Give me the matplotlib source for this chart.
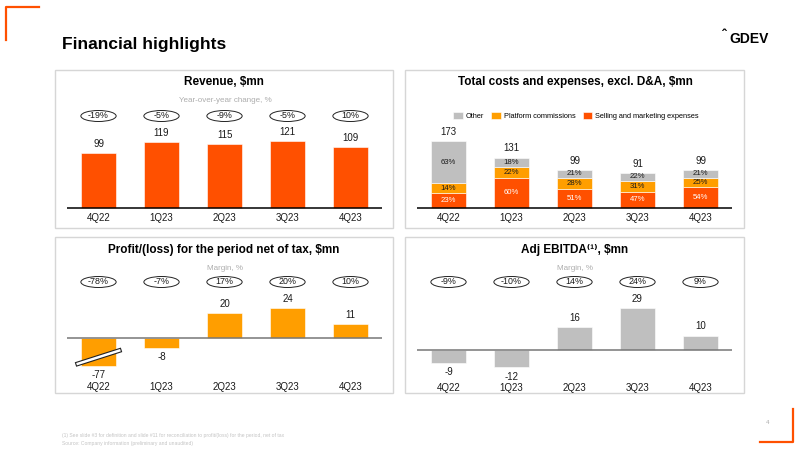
"""Financial highlights slide: revenue, costs, profit and adj EBITDA by quarter."""

import matplotlib.pyplot as plt
from matplotlib.lines import Line2D
from matplotlib.patches import Ellipse, Rectangle
from matplotlib.transforms import blended_transform_factory

plt.rcParams["font.family"] = ["Liberation Sans", "DejaVu Sans"]

quarters = ["4Q22", "1Q23", "2Q23", "3Q23", "4Q23"]

revenue = [99, 119, 115, 121, 109]
revenue_yoy = ["-19%", "-5%", "-9%", "-5%", "10%"]

costs_total = [173, 131, 99, 91, 99]
share_selling = [23, 60, 51, 47, 54]
share_platform = [14, 22, 28, 31, 25]
share_other = [63, 18, 21, 22, 21]

profit = [-77, -8, 20, 24, 11]
profit_margin = ["-78%", "-7%", "17%", "20%", "10%"]

ebitda = [-9, -12, 16, 29, 10]
ebitda_margin = ["-9%", "-10%", "14%", "24%", "9%"]

RED = "#FF5000"
ORANGE = "#FF9E00"
GREY = "#BFBFBF"
TEXT = "#1a1a1a"
LIGHT = "#ADADAD"

W, H = 800, 450
fig = plt.figure(figsize=(8, 4.5), dpi=100)


def fy(y):
    return 1 - y / H


def chart_axes(x0, x1, base, scale, top, bottom):
    ax = fig.add_axes([x0 / W, fy(bottom), (x1 - x0) / W, (bottom - top) / H])
    ax.set_xlim(-0.5, len(quarters) - 0.5)
    ax.set_ylim(-(bottom - base) / scale, (base - top) / scale)
    ax.axis("off")
    return ax


def baseline(ax, color):
    ax.axhline(0, color=color, lw=1.1, zorder=5)


def category_labels(ax, y):
    tr = blended_transform_factory(ax.transData, fig.transFigure)
    for i, q in enumerate(quarters):
        ax.text(i, fy(y), q, transform=tr, ha="center", va="center",
                fontsize=7, color=TEXT, clip_on=False)


def ovals(ax, y, labels):
    tr = blended_transform_factory(ax.transData, fig.transFigure)
    for i, s in enumerate(labels):
        e = Ellipse((i, fy(y)), 0.56, 11 / H, transform=tr, facecolor="white",
                    edgecolor="#222222", lw=0.7, zorder=3)
        e.set_clip_on(False)
        ax.add_artist(e)
        ax.text(i, fy(y), s, transform=tr, ha="center", va="center",
                fontsize=6.4, color=TEXT, clip_on=False, zorder=4)


def value_labels(ax, bars, values):
    for bar, v in zip(bars, values):
        cx = bar.get_x() + bar.get_width() / 2
        y0, y1 = bar.get_y(), bar.get_y() + bar.get_height()
        if v >= 0:
            ax.annotate(str(v), (cx, max(y0, y1)), xytext=(0, 3),
                        textcoords="offset points", ha="center", va="bottom",
                        fontsize=7, color=TEXT)
        else:
            ax.annotate(str(v), (cx, min(y0, y1)), xytext=(0, -3),
                        textcoords="offset points", ha="center", va="top",
                        fontsize=7, color=TEXT)


# background decoration (pixel coordinates)
bg = fig.add_axes([0, 0, 1, 1])
bg.set_xlim(0, W)
bg.set_ylim(H, 0)
bg.axis("off")
bg.plot([39, 6, 6], [7, 7, 40], color=RED, lw=1.6, solid_joinstyle="round")
bg.plot([760, 793, 793], [442, 442, 409], color=RED, lw=1.6, solid_joinstyle="round")
for x0, y0, x1, y1 in [(55, 70, 393, 228), (405, 70, 744, 228),
                       (55, 237, 393, 393), (405, 237, 744, 393)]:
    bg.add_patch(Rectangle((x0, y0), x1 - x0, y1 - y0, fill=False,
                           edgecolor="#D6D6D6", lw=1.0))
bg.text(62, 45, "Financial highlights", fontsize=12.5, fontweight="bold",
        color="black", va="center", ha="left")
bg.text(722, 36, "\u02c6", fontsize=10, fontweight="bold", color="black",
        va="center", ha="left")
bg.text(729, 39, "GDEV", fontsize=10, fontweight="bold", color="black",
        va="center", ha="left")
bg.text(766, 423, "4", fontsize=4.5, color=LIGHT, va="center", ha="left")
bg.text(62, 436, "(1) See slide #3 for definition and slide #11 for reconciliation "
        "to profit/(loss) for the period, net of tax", fontsize=3.6, color="#C4C4C4",
        va="center", ha="left")
bg.text(62, 444, "Source: Company information (preliminary and unaudited)",
        fontsize=3.6, color="#C4C4C4", va="center", ha="left")

bg.text(224, 82, "Revenue, $mn", fontsize=8.5, fontweight="bold", ha="center", va="center")
bg.text(225, 100, "Year-over-year change, %", fontsize=5.8, color=LIGHT, ha="center", va="center")
bg.text(575, 82, "Total costs and expenses, excl. D&A, $mn", fontsize=8.5,
        fontweight="bold", ha="center", va="center")
bg.text(224, 250, "Profit/(loss) for the period net of tax, $mn", fontsize=8.5,
        fontweight="bold", ha="center", va="center")
bg.text(225, 268, "Margin, %", fontsize=5.8, color=LIGHT, ha="center", va="center")
bg.text(575, 250, "Adj EBITDA\u207d\u00b9\u207e, $mn", fontsize=8.5, fontweight="bold",
        ha="center", va="center")
bg.text(575, 268, "Margin, %", fontsize=5.8, color=LIGHT, ha="center", va="center")

x = list(range(len(quarters)))
bw = 0.56

# Revenue
ax1 = chart_axes(67, 382, 208, 0.556, 125, 208.5)
bars = ax1.bar(x, revenue, bw, color=RED, edgecolor="white", lw=0.4)
value_labels(ax1, bars, revenue)
baseline(ax1, "black")
category_labels(ax1, 218)
ovals(ax1, 116, revenue_yoy)

# Total costs, stacked
ax2 = chart_axes(417, 732, 208, 0.385, 125, 208.5)
sell = [t * s / 100 for t, s in zip(costs_total, share_selling)]
plat = [t * s / 100 for t, s in zip(costs_total, share_platform)]
oth = [t * s / 100 for t, s in zip(costs_total, share_other)]
b_sell = ax2.bar(x, sell, bw, color=RED, edgecolor="white", lw=0.4,
                 label="Selling and marketing expenses")
b_plat = ax2.bar(x, plat, bw, bottom=sell, color=ORANGE, edgecolor="white", lw=0.4,
                 label="Platform commissions")
bottoms = [a + b for a, b in zip(sell, plat)]
b_oth = ax2.bar(x, oth, bw, bottom=bottoms, color=GREY, edgecolor="white", lw=0.4,
                label="Other")
for bars_, shares, col in [(b_sell, share_selling, "white"),
                           (b_plat, share_platform, TEXT),
                           (b_oth, share_other, TEXT)]:
    for bar, s in zip(bars_, shares):
        ax2.text(bar.get_x() + bar.get_width() / 2, bar.get_y() + bar.get_height() / 2,
                 f"{s}%", ha="center", va="center", fontsize=5.6, color=col)
for i, t in enumerate(costs_total):
    ax2.annotate(str(t), (i, t), xytext=(0, 3), textcoords="offset points",
                 ha="center", va="bottom", fontsize=7, color=TEXT)
baseline(ax2, "black")
category_labels(ax2, 218)
fig.legend(handles=[b_oth, b_plat, b_sell], loc="center", ncol=3,
           bbox_to_anchor=(576 / W, fy(116)), frameon=False, fontsize=5.3,
           handlelength=1.3, handleheight=1.1, handletextpad=0.4, columnspacing=1.0)

# Profit / loss, with the 4Q22 loss truncated by a break
ax3 = chart_axes(67, 382, 338, 1.23, 290, 372)
floor = -23
drawn = [max(v, floor) for v in profit]
bars = ax3.bar(x, drawn, bw, color=ORANGE, edgecolor="white", lw=0.4)
value_labels(ax3, bars, profit)
for bar, v in zip(bars, profit):
    if v < floor:
        cx = bar.get_x() + bar.get_width() / 2
        xs = [cx - 0.33, cx + 0.33]
        ys = [-21.0, -10.2]
        ax3.add_line(Line2D(xs, ys, color="#222222", lw=3.4, clip_on=False, zorder=6))
        ax3.add_line(Line2D(xs, ys, color="white", lw=1.8, clip_on=False, zorder=7))
baseline(ax3, "#777777")
category_labels(ax3, 387)
ovals(ax3, 282, profit_margin)

# Adj EBITDA
ax4 = chart_axes(417, 732, 350, 1.45, 290, 380)
bars = ax4.bar(x, ebitda, bw, color=GREY, edgecolor="white", lw=0.4)
value_labels(ax4, bars, ebitda)
baseline(ax4, "#777777")
category_labels(ax4, 388)
ovals(ax4, 282, ebitda_margin)

fig.savefig("out.png", dpi=100)
